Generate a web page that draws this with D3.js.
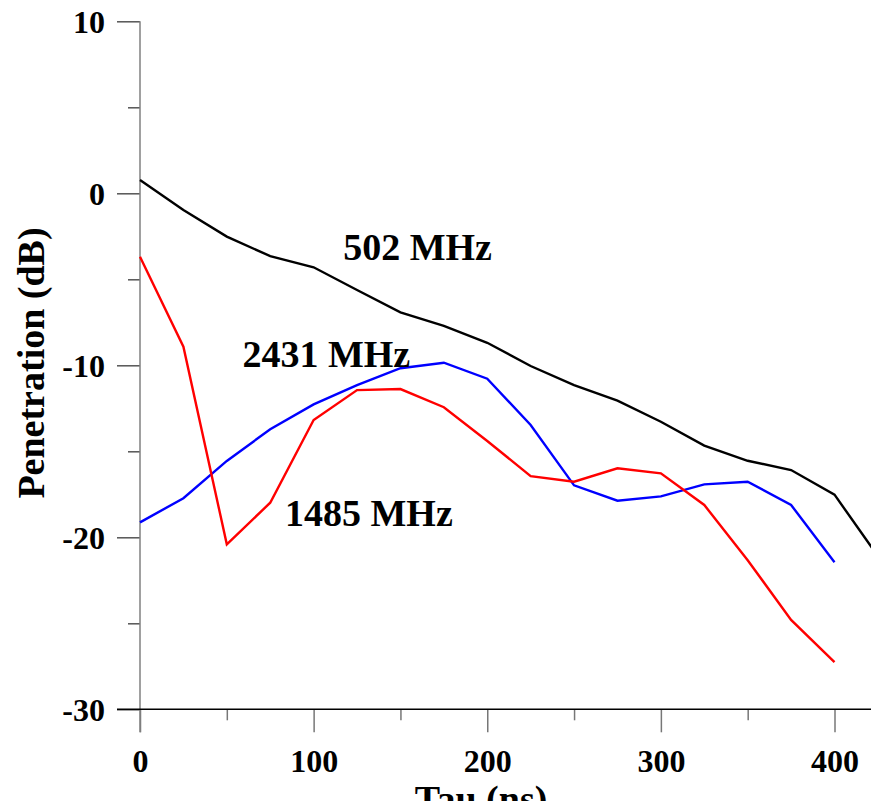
<!DOCTYPE html><html>
<head>
  <title>Penetration vs Tau</title>
  <style>
    body { margin: 0; background: #fff; }
    svg text { font-family: "Liberation Serif", "Times New Roman", serif; font-weight: bold; }
  </style>
</head><body>

<svg width="871" height="801"></svg>

<script src="https://cdn.jsdelivr.net/npm/d3@7"></script>
<script>
// tau steps (ns)
var tau = [0, 25, 50, 75, 100, 125, 150, 175, 200, 225, 250, 275, 300, 325, 350, 375, 400, 425];

// penetration (dB)
var mhz502  = [0.77, -0.97, -2.52, -3.65, -4.30, -5.62, -6.92, -7.71, -8.69, -10.04, -11.15, -12.06, -13.28, -14.67, -15.55, -16.09, -17.52, -21.1];
var mhz2431 = [-19.13, -17.73, -15.56, -13.72, -12.27, -11.15, -10.17, -9.85, -10.78, -13.47, -16.98, -17.87, -17.62, -16.92, -16.77, -18.12, -21.45];
var mhz1485 = [-3.69, -8.92, -20.41, -17.99, -13.18, -11.44, -11.38, -12.44, -14.40, -16.44, -16.77, -15.99, -16.28, -18.12, -21.33, -24.80, -27.26];

var yTicks = [-30, -25, -20, -15, -10, -5, 0, 5, 10];
var xTicks = [0, 50, 100, 150, 200, 250, 300, 350, 400, 450];

var series = [
  { name: '502 MHz',  values: mhz502,  color: '#000000' },
  { name: '2431 MHz', values: mhz2431, color: '#0000ff' },
  { name: '1485 MHz', values: mhz1485, color: '#ff0000' }
];

// where the curve names sit, in data units
var notes = [
  { text: '502 MHz',  tau: 117, db: -3.9 },
  { text: '2431 MHz', tau: 59,  db: -10.1 },
  { text: '1485 MHz', tau: 83.5, db: -19.35 }
];

var svg = d3.select('svg');

var x = d3.scaleLinear().domain([0, 450]).range([140, 140 + 450 * 694.5 / 400]);
var y = d3.scaleLinear().domain([-30, 10]).range([709.3, 21.3]);

// y axis
var ya = svg.append('g').attr('transform', 'translate(' + x(0) + ',0)')
  .call(d3.axisLeft(y).tickValues(yTicks).tickSizeOuter(0)
    .tickFormat(function(d) { return d % 10 === 0 ? String(d) : ''; }));
ya.select('.domain').remove();
ya.selectAll('.tick line')
  .attr('x2', function(d) { return d % 10 === 0 ? -23 : -12; })
  .attr('stroke', '#555').attr('stroke-width', 1.5);
ya.selectAll('.tick text')
  .attr('x', -35).attr('dy', '0.35em')
  .style('font-size', '32px').attr('fill', '#000');

// x axis
var xa = svg.append('g').attr('transform', 'translate(0,' + y(-30) + ')')
  .call(d3.axisBottom(x).tickValues(xTicks).tickSizeOuter(0)
    .tickFormat(function(d) { return d % 100 === 0 ? String(d) : ''; }));
xa.select('.domain').remove();
xa.selectAll('.tick line')
  .attr('y2', function(d) { return d % 100 === 0 ? 23 : 11; })
  .attr('stroke', '#777').attr('stroke-width', 1.5);
xa.selectAll('.tick text')
  .attr('y', 63).attr('dy', 0)
  .style('font-size', '32px').attr('fill', '#000');

svg.append('line')
  .attr('x1', x(0)).attr('x2', x(0))
  .attr('y1', y(10)).attr('y2', y(-30) + 23)
  .attr('stroke', '#808080').attr('stroke-width', 1.5);
svg.append('line')
  .attr('x1', x(0) - 23).attr('x2', x(450))
  .attr('y1', y(-30)).attr('y2', y(-30))
  .attr('stroke', '#000').attr('stroke-width', 1.5);

// curves
var line = d3.line()
  .x(function(d, i) { return x(tau[i]); })
  .y(function(d) { return y(d); });

svg.selectAll('path.curve')
    .data(series)
  .enter()
    .append('path')
    .attr('class', 'curve')
    .attr('d', function(s) { return line(s.values); })
    .attr('fill', 'none')
    .attr('stroke', function(s) { return s.color; })
    .attr('stroke-width', 2.4);

svg.selectAll('text.note')
    .data(notes)
  .enter()
    .append('text')
    .attr('class', 'note')
    .attr('x', function(d) { return x(d.tau); })
    .attr('y', function(d) { return y(d.db); })
    .style('font-size', '38px')
    .text(function(d) { return d.text; });

// axis titles
svg.append('text')
  .attr('transform', 'translate(44,363) rotate(-90)')
  .attr('text-anchor', 'middle')
  .style('font-size', '38px')
  .text('Penetration (dB)');

svg.append('text')
  .attr('x', 481).attr('y', 812)
  .attr('text-anchor', 'middle')
  .style('font-size', '38px')
  .text('Tau (ns)');
</script>
</body></html>
